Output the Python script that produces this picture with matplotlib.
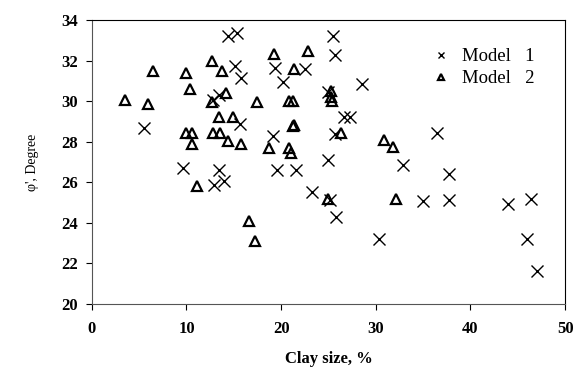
import numpy as np
from matplotlib import pyplot as plt

# Model 1 (crosses)
clay_m1 = [5.5, 9.6, 12.95, 13.4, 14.0, 12.8, 13.4, 14.4, 15.3, 15.1, 15.8, 15.7,
           19.1, 19.6, 19.4, 20.2, 21.6, 22.5, 23.3, 25.0, 24.95, 25.2, 25.5, 25.65,
           25.8, 25.7, 26.6, 27.3, 28.5, 30.3, 32.9, 35.0, 36.5, 37.7, 37.7, 44.0,
           46.4, 46.0, 47.0]
phi_m1 = [28.7, 26.7, 25.85, 26.6, 26.05, 30.05, 30.3, 33.2, 33.35, 31.75, 31.15, 28.9,
          28.3, 26.6, 31.65, 30.95, 26.6, 31.6, 25.5, 27.1, 30.45, 25.15, 33.2, 32.3,
          24.3, 28.4, 29.2, 29.2, 30.85, 23.2, 26.85, 25.1, 28.45, 26.4, 25.15, 24.95,
          25.2, 23.2, 21.65]

# Model 2 (triangles)
clay_m2 = [3.5, 5.9, 6.5, 9.9, 10.4, 9.95, 10.6, 10.55, 11.15, 12.7, 13.8, 14.2,
           12.7, 13.4, 14.9, 12.85, 13.55, 14.4, 15.8, 17.4, 16.6, 17.2, 18.7, 19.2,
           21.4, 22.8, 20.8, 21.2, 21.3, 21.4, 20.8, 21.0, 25.3, 25.3, 25.4, 26.3,
           25.0, 30.9, 31.8, 32.1]
phi_m2 = [30.05, 29.85, 31.5, 31.4, 30.6, 28.45, 28.45, 27.9, 25.8, 32.0, 31.5, 30.4,
          29.95, 29.2, 29.2, 28.45, 28.45, 28.05, 27.9, 29.95, 24.1, 23.1, 27.7, 32.35,
          31.6, 32.5, 30.0, 30.0, 28.8, 28.85, 27.7, 27.45, 30.5, 30.2, 30.0, 28.45,
          25.2, 28.1, 27.75, 25.2]

xticks = [0, 10, 20, 30, 40, 50]
yticks = [20, 22, 24, 26, 28, 30, 32, 34]

plt.rcParams['font.family'] = ['Liberation Serif', 'DejaVu Serif']

fig = plt.figure(figsize=(5.85, 3.73), dpi=100)
ax = fig.add_axes([0.157, 0.185, 0.809, 0.761])

ax.plot(clay_m1, phi_m1, 'x', color='black', markersize=8, markeredgewidth=1.0,
        label='Model   1')
ax.plot(clay_m2, phi_m2, '^', markerfacecolor='none', markeredgecolor='black',
        markersize=7.5, markeredgewidth=1.6, label='Model   2')

ax.set_xlim(0, 50)
ax.set_ylim(20, 34)
ax.set_xticks(xticks)
ax.set_yticks(yticks)
ax.tick_params(direction='out', length=4, width=0.8, labelsize=12, colors='black')
for lab in ax.get_xticklabels() + ax.get_yticklabels():
    lab.set_fontweight('bold')
ax.tick_params(axis='x', pad=8)
ax.tick_params(axis='y', pad=6)

for s in ['left', 'bottom']:
    ax.spines[s].set_color('#555555')
for s in ['top', 'right']:
    ax.spines[s].set_color('black')

ax.set_xlabel('Clay size, %', fontsize=12, fontweight='bold', labelpad=10)
ax.set_ylabel("φ', Degree", fontsize=10, labelpad=16)

leg = ax.legend(loc='upper right', bbox_to_anchor=(0.97, 0.96), frameon=False,
                fontsize=13.5, markerscale=0.6, handletextpad=0.1, labelspacing=0.25)

fig.savefig('out.png', dpi=100)
